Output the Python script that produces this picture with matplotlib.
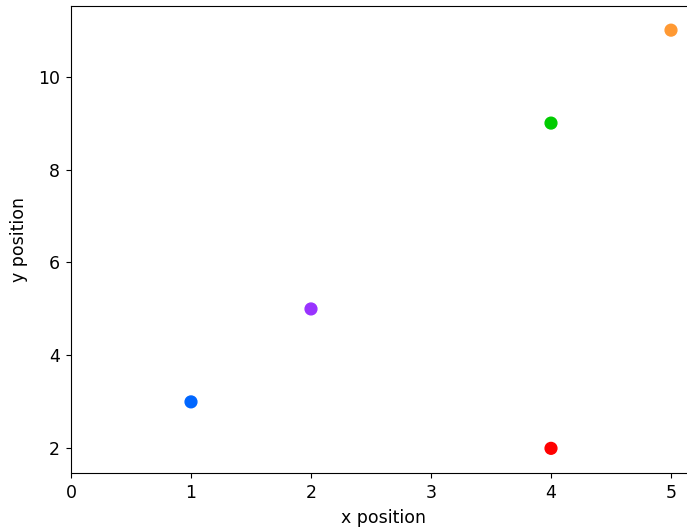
import matplotlib
matplotlib.use("Agg")
import matplotlib.pyplot as plt

# point data
xs = [1, 2, 4, 4, 5]
ys = [3, 5, 9, 2, 11]
colors = ["#0066ff", "#9933ff", "#00cc00", "#ff0000", "#ff9933"]

fig = plt.figure(figsize=(6.87, 5.31), dpi=100)
ax = fig.add_axes([71 / 687, (531 - 472.5) / 531, (695 - 71) / 687, (472.5 - 6) / 531])
ax.scatter(xs, ys, c=colors, s=72, zorder=3)
ax.set_xlim(0, 5.2)
ax.set_ylim(1.48, 11.52)
ax.set_xticks([0, 1, 2, 3, 4, 5])
ax.set_yticks([2, 4, 6, 8, 10])
ax.tick_params(labelsize=12.5, pad=4.5)
ax.set_xlabel("x position", fontsize=12.5, labelpad=5)
ax.set_ylabel("y position", fontsize=12.5, labelpad=7)

fig.savefig("out.png", dpi=100)
